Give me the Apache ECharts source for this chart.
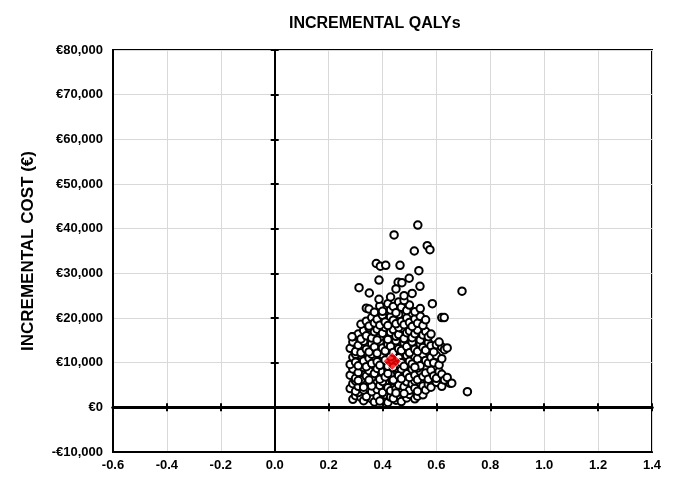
<!DOCTYPE html>
<html>
<head>
<meta charset="utf-8">
<script src="https://cdn.jsdelivr.net/npm/echarts@6/dist/echarts.min.js"></script>
<style>
  html, body { margin: 0; padding: 0; background: #fff; }
  #chart { width: 677px; height: 477px; }
</style>
</head>
<body>
<div id="chart"></div>
<script>
// axis settings
var xMin = -0.6, xMax = 1.4, xStep = 0.2;
var yMin = -10000, yMax = 80000, yStep = 10000;

// bootstrap replicates, grouped by cost band: [incremental QALY, incremental cost]
var band1 = [[0.29,1800],[0.30,2600],[0.32,2200],[0.33,1500],[0.35,2900],[0.36,1900],[0.37,1200],[0.38,2500],[0.40,1700],[0.41,2800],[0.42,1100],[0.43,2300],[0.45,1600],[0.46,2700],[0.47,1300],[0.49,2100],[0.50,2900],[0.52,1900],[0.53,2500],[0.55,2800],[0.31,3300],[0.34,2400],[0.39,1400],[0.44,2000]];
var band2 = [[0.28,4200],[0.29,5300],[0.30,3600],[0.31,4700],[0.32,5800],[0.33,3900],[0.34,5100],[0.35,4300],[0.36,3500],[0.37,5600],[0.38,4000],[0.39,4900],[0.40,3300],[0.41,5400],[0.42,4400],[0.43,3700],[0.44,5900],[0.45,4100],[0.46,5000],[0.47,3400],[0.48,4600],[0.49,5700],[0.50,3800],[0.51,5200],[0.52,4300],[0.53,3600],[0.54,5500],[0.55,4800],[0.56,3900],[0.57,5100],[0.58,4500],[0.30,5900],[0.33,4500],[0.36,4800],[0.40,5800],[0.45,3200],[0.48,3100],[0.52,5900],[0.60,5600],[0.62,4700],[0.65,5400],[0.715,3500]];
var band3 = [[0.28,7200],[0.29,8600],[0.30,6500],[0.31,7800],[0.32,6200],[0.33,8900],[0.34,7000],[0.35,8200],[0.36,6600],[0.37,7600],[0.38,8700],[0.39,6300],[0.40,7900],[0.41,6800],[0.42,8400],[0.43,7300],[0.44,6100],[0.45,8800],[0.46,7100],[0.47,6400],[0.48,8100],[0.49,7500],[0.50,6700],[0.51,8500],[0.52,7200],[0.53,6200],[0.54,8000],[0.55,6900],[0.56,7700],[0.57,6300],[0.58,8300],[0.59,7000],[0.60,6500],[0.61,8000],[0.62,7400],[0.63,6100],[0.31,6000],[0.35,6100],[0.42,7600],[0.47,8600],[0.53,8800],[0.64,6700]];
var band4 = [[0.28,9600],[0.29,11200],[0.30,10100],[0.31,9300],[0.32,11700],[0.33,10400],[0.34,9100],[0.35,11000],[0.36,9800],[0.37,11500],[0.38,10200],[0.39,9400],[0.40,11800],[0.41,10600],[0.42,9200],[0.43,11300],[0.45,9500],[0.46,11100],[0.47,10000],[0.48,9200],[0.49,11600],[0.50,10300],[0.51,9700],[0.52,11400],[0.53,10800],[0.54,9300],[0.55,11900],[0.56,10500],[0.57,9900],[0.58,11200],[0.59,10000],[0.60,11600],[0.61,9500],[0.62,10900],[0.30,11900],[0.36,11900],[0.44,9000],[0.52,9000]];
var band5 = [[0.28,13200],[0.29,14600],[0.30,12500],[0.31,13900],[0.32,12200],[0.33,14800],[0.34,13000],[0.35,12400],[0.36,14300],[0.37,13500],[0.38,12100],[0.39,14700],[0.40,13300],[0.41,12600],[0.42,14100],[0.43,13700],[0.44,12300],[0.45,14900],[0.46,13100],[0.47,12700],[0.48,14400],[0.49,13600],[0.50,12200],[0.51,14600],[0.52,13000],[0.53,12500],[0.54,14200],[0.55,13400],[0.56,12800],[0.57,14500],[0.58,13800],[0.59,12400],[0.60,14000],[0.62,13500],[0.63,12900],[0.64,13300],[0.61,14600]];
var band6 = [[0.29,15800],[0.31,16400],[0.32,15300],[0.33,17200],[0.34,16000],[0.35,17800],[0.36,15500],[0.37,16900],[0.38,17500],[0.39,15700],[0.40,16600],[0.41,17900],[0.42,15200],[0.43,16800],[0.44,17400],[0.45,15900],[0.46,16300],[0.47,17700],[0.48,15400],[0.49,16700],[0.50,17100],[0.51,15600],[0.52,16500],[0.53,17300],[0.54,15100],[0.55,16200],[0.56,17000],[0.57,15800],[0.58,16400],[0.38,15100],[0.46,17900]];
var band7 = [[0.32,18600],[0.34,19300],[0.35,18200],[0.36,20100],[0.37,18900],[0.38,19700],[0.39,18400],[0.40,20600],[0.41,19100],[0.42,18300],[0.43,20300],[0.44,19500],[0.45,18700],[0.46,20800],[0.47,19200],[0.48,18500],[0.49,20000],[0.50,19000],[0.51,18100],[0.52,19800],[0.53,18800],[0.54,20400],[0.55,18300],[0.56,19600],[0.62,20100]];
var band8 = [[0.34,22200],[0.35,22000],[0.37,21300],[0.39,22700],[0.40,21500],[0.42,23200],[0.43,21800],[0.44,22600],[0.45,21200],[0.46,23600],[0.47,22400],[0.49,21700],[0.50,22900],[0.52,21400],[0.54,22100],[0.585,23200],[0.387,24200],[0.48,23900]];
var outliers = [[0.531,40800],[0.443,38600],[0.518,35000],[0.566,36200],[0.576,35300],[0.377,32200],[0.392,31600],[0.412,31800],[0.465,31800],[0.535,30600],[0.387,28500],[0.458,28000],[0.472,27900],[0.499,28900],[0.539,27100],[0.313,26800],[0.351,25600],[0.695,26000],[0.629,20100],[0.657,5400],[0.287,15800],[0.48,25000],[0.45,26500],[0.51,25500],[0.43,24700]];

// point estimate
var meanPoint = [[0.436, 10300]];

var replicates = [].concat(band1, band2, band3, band4, band5, band6, band7, band8, outliers);

var font = '"Liberation Sans", Arial, sans-serif';

function costLabel(v) {
  var s = Math.abs(v).toLocaleString('en-US');
  return (v < 0 ? '-€' : '€') + s;
}

var zeroX = {
  min: xMin, max: xMax, interval: xStep, type: 'value',
  axisLine: { onZero: true, lineStyle: { color: '#000', width: 3 } },
  axisTick: { show: true, length: 4, lineStyle: { color: '#000', width: 2 } },
  axisLabel: { show: false }, splitLine: { show: false }
};
var zeroY = {
  min: yMin, max: yMax, interval: yStep, type: 'value',
  axisLine: { onZero: true, lineStyle: { color: '#000', width: 2 } },
  axisTick: { show: true, length: 4, lineStyle: { color: '#000', width: 2 } },
  axisLabel: { show: false }, splitLine: { show: false }
};

var chart = echarts.init(document.getElementById('chart'), null, { renderer: 'canvas' });

chart.setOption({
  animation: false,
  backgroundColor: '#fff',
  title: {
    text: 'INCREMENTAL QALYs',
    left: 284, top: 11,
    textStyle: { fontFamily: font, fontWeight: 'bold', fontSize: 16, color: '#000' }
  },
  grid: {
    left: 113, right: 25, top: 50, bottom: 25,
    show: true, borderColor: '#000', borderWidth: 2,
    outerBoundsMode: 'none'
  },
  xAxis: [
    {
      type: 'value', position: 'bottom', min: xMin, max: xMax, interval: xStep,
      axisLine: { onZero: false, lineStyle: { color: '#000', width: 2 } },
      axisTick: { show: false },
      axisLabel: {
        margin: 7, color: '#000', fontFamily: font, fontWeight: 'bold', fontSize: 13,
        formatter: function (v) { return v.toFixed(1); }
      },
      splitLine: { show: true, lineStyle: { color: '#d9d9d9', width: 1 } }
    },
    Object.assign({ position: 'bottom' }, zeroX),
    Object.assign({ position: 'top' }, zeroX)
  ],
  yAxis: [
    {
      type: 'value', position: 'left', min: yMin, max: yMax, interval: yStep,
      name: 'INCREMENTAL COST (€)', nameLocation: 'middle', nameGap: 76,
      nameTextStyle: { fontFamily: font, fontWeight: 'bold', fontSize: 17, color: '#000' },
      axisLine: { onZero: false, lineStyle: { color: '#000', width: 2 } },
      axisTick: { show: false },
      axisLabel: {
        margin: 10, color: '#000', fontFamily: font, fontWeight: 'bold', fontSize: 13,
        formatter: costLabel
      },
      splitLine: { show: true, lineStyle: { color: '#d9d9d9', width: 1 } }
    },
    Object.assign({ position: 'left' }, zeroY),
    Object.assign({ position: 'right' }, zeroY)
  ],
  series: [
    {
      type: 'scatter', xAxisIndex: 0, yAxisIndex: 0,
      symbol: 'circle', symbolSize: 7.5,
      itemStyle: { color: '#fff', borderColor: '#000', borderWidth: 2, opacity: 1 },
      data: replicates, z: 3
    },
    {
      type: 'scatter', xAxisIndex: 0, yAxisIndex: 0,
      symbol: 'diamond', symbolSize: 18,
      itemStyle: { color: '#ff0000', borderColor: '#fff', borderWidth: 1 },
      data: meanPoint, z: 5
    }
  ]
});
</script>
</body>
</html>
